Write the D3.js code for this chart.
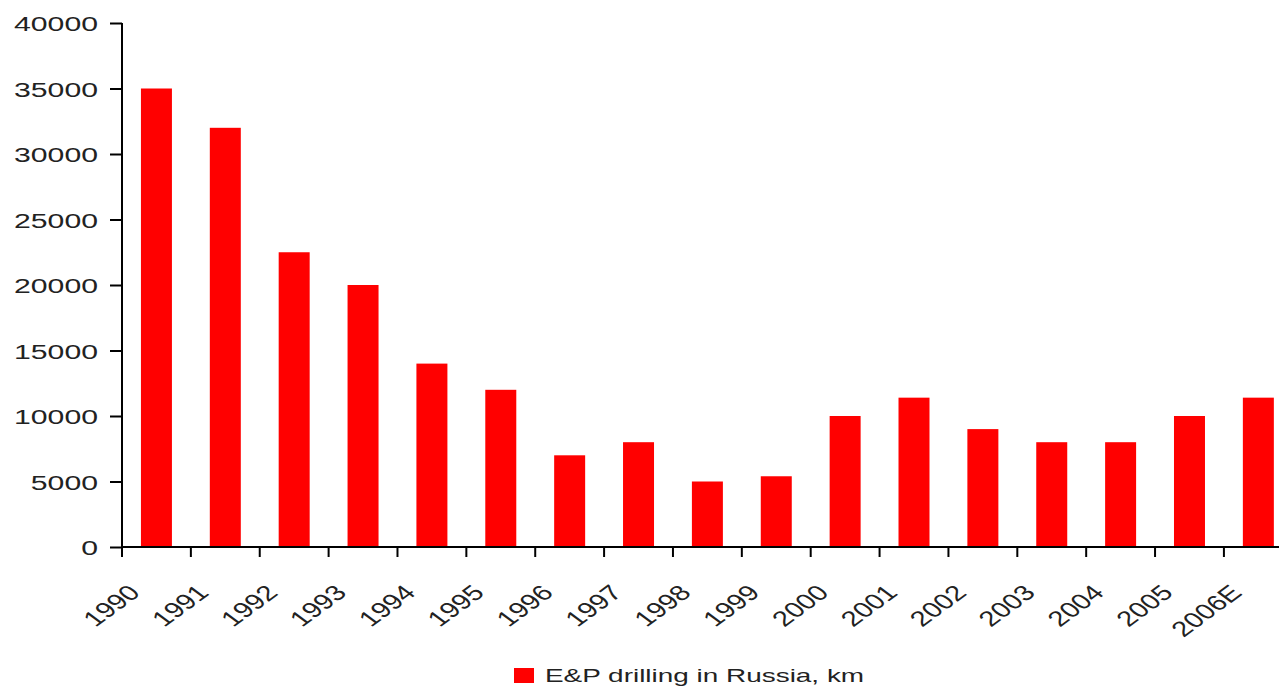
<!DOCTYPE html>
<html>
<head>
<meta charset="utf-8">
<script src="https://cdn.jsdelivr.net/npm/d3@7"></script>
<style>
  body { margin: 0; background: #fff; }
  svg { display: block; font-family: "Liberation Sans", Arial, sans-serif; }
</style>
</head>
<body>
<div id="chart"></div>
<script>
// data
var years = ["1990", "1991", "1992", "1993", "1994", "1995", "1996", "1997", "1998",
             "1999", "2000", "2001", "2002", "2003", "2004", "2005", "2006E"];
var drilling = [35000, 32000, 22500, 20000, 14000, 12000, 7000, 8000, 5000,
                5400, 10000, 11400, 9000, 8000, 8000, 10000, 11400];
var yTicks = [0, 5000, 10000, 15000, 20000, 25000, 30000, 35000, 40000];
var seriesName = "E&P drilling in Russia, km";

var width = 1279, height = 687;
var x0 = 122, step = 68.87;
var stretch = 1.44; // the source image is stretched sideways

var svg = d3.select("#chart").append("svg")
    .attr("width", width)
    .attr("height", height);

var x = d3.scaleBand()
    .domain(years)
    .range([x0, x0 + step * years.length])
    .paddingInner(0.55)
    .paddingOuter(0.275);

var y = d3.scaleLinear()
    .domain([0, 40000])
    .range([547, 23]);

// bars
svg.selectAll(".bar")
    .data(drilling)
  .enter().append("rect")
    .attr("class", "bar")
    .attr("x", (d, i) => x(years[i]))
    .attr("y", d => y(d))
    .attr("width", x.bandwidth())
    .attr("height", d => y(0) - y(d))
    .attr("fill", "#ff0000");

// y axis
var yAxis = svg.append("g")
    .attr("transform", "translate(" + x0 + ",0)")
    .call(d3.axisLeft(y).tickValues(yTicks).tickSize(12).tickFormat(d3.format("d")));
yAxis.select(".domain").attr("stroke", "#000").attr("stroke-width", 2).attr("d", "M0," + y(40000) + "V" + (y(0) + 10));
yAxis.selectAll(".tick line").attr("stroke", "#000").attr("stroke-width", 2);
yAxis.selectAll(".tick text")
    .attr("x", 0)
    .attr("dy", "0.36em")
    .attr("transform", "translate(-24,0) scale(" + stretch + ",1)")
    .attr("fill", "#222")
    .style("font-size", "21px");

// x axis: line, ticks between categories, rotated labels
var xAxis = svg.append("g")
    .attr("transform", "translate(0," + y(0) + ")")
    .call(d3.axisBottom(x).tickSize(0).tickPadding(0));
xAxis.select(".domain").attr("stroke", "#000").attr("stroke-width", 2)
    .attr("d", "M" + x0 + ",0H" + width);
xAxis.selectAll(".tick text")
    .attr("y", 0)
    .attr("dy", 0)
    .attr("text-anchor", "end")
    .attr("transform", "translate(-15,47) scale(1.36,1) rotate(-45)")
    .attr("fill", "#222")
    .style("font-size", "21.5px");

xAxis.selectAll(".sep")
    .data(years)
  .enter().append("line")
    .attr("class", "sep")
    .attr("x1", d => x(d) - x.step() * x.paddingOuter())
    .attr("x2", d => x(d) - x.step() * x.paddingOuter())
    .attr("y1", 0)
    .attr("y2", 10)
    .attr("stroke", "#000")
    .attr("stroke-width", 2);

// legend
var legend = svg.append("g").attr("transform", "translate(514,668)");
legend.append("rect")
    .attr("width", 20)
    .attr("height", 15)
    .attr("fill", "#ff0000");
legend.append("text")
    .attr("transform", "translate(31,14) scale(1.47,1)")
    .attr("fill", "#222")
    .style("font-size", "19px")
    .text(seriesName);
</script>
</body>
</html>
